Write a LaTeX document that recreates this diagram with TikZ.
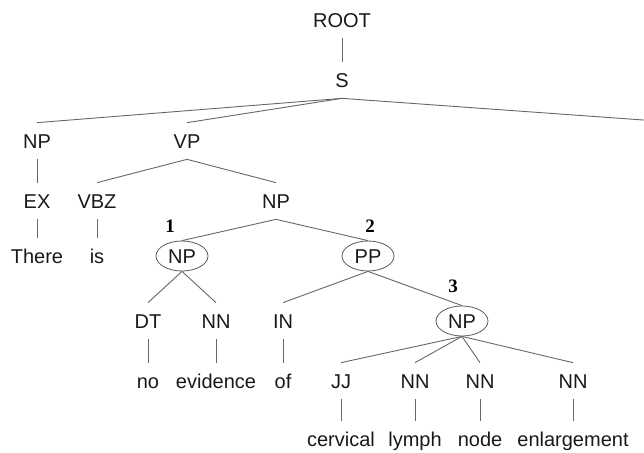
\documentclass[tikz,border=0pt]{standalone}
\usepackage{fontspec}
\setmainfont{Liberation Sans}
\newfontfamily\numfont{Liberation Serif}
\usetikzlibrary{shapes.geometric}
\begin{document}
\begin{tikzpicture}[x=1pt,y=-1pt,
  lbl/.style={font=\fontsize{20}{24}\selectfont, text height=14.3pt, text depth=0pt, inner xsep=1pt, inner ysep=11pt, text=black!90},
  circ/.style={lbl, ellipse, draw=black!65, line width=0.8pt, inner sep=0pt, minimum width=52pt, minimum height=30pt},
  num/.style={font=\numfont\bfseries\fontsize{19}{22}\selectfont, inner sep=0pt},
  edge/.style={draw=black!60, line width=0.9pt}]
\useasboundingbox (0,0) rectangle (644,452);
% row 0-1
\node[lbl] (ROOT) at (342,20) {ROOT};
\node[lbl] (S) at (342,80) {S};
% row 2
\node[lbl] (NPa) at (37,141) {NP};
\node[lbl] (VP) at (187,141) {VP};
\coordinate (off) at (646,120.2);
% row 3
\node[lbl] (EX) at (37,201) {EX};
\node[lbl] (VBZ) at (97,201) {VBZ};
\node[lbl] (NPb) at (276,201) {NP};
% row 4
\node[lbl] (There) at (37,256) {There};
\node[lbl] (is) at (97,256) {is};
\node[circ] (NP1) at (182,256) {NP};
\node[circ] (PP) at (368,256) {PP};
% row 5
\node[lbl] (DT) at (148,321) {DT};
\node[lbl] (NNa) at (216,321) {NN};
\node[lbl] (IN) at (283,321) {IN};
\node[circ] (NP3) at (462,321) {NP};
% row 6
\node[lbl] (no) at (148,381) {no};
\node[lbl] (evidence) at (216,381) {evidence};
\node[lbl] (of) at (283,381) {of};
\node[lbl] (JJ) at (341,381) {JJ};
\node[lbl] (NNb) at (415,381) {NN};
\node[lbl] (NNc) at (480,381) {NN};
\node[lbl] (NNd) at (573,381) {NN};
% row 7
\node[lbl] (cervical) at (341,439) {cervical};
\node[lbl] (lymph) at (415,439) {lymph};
\node[lbl] (node) at (480,439) {node};
\node[lbl] (enlargement) at (573,439) {enlargement};
% numbers
\node[num] (n1) at (170,226) {1};
\node[num] (n2) at (370,226) {2};
\node[num] (n3) at (453,286) {3};
% edges
\draw[edge] (ROOT.south) -- (S.north);
\draw[edge] (S.south) -- (NPa.north);
\draw[edge] (S.south) -- (VP.north);
\draw[edge] (S.south) -- (off);
\draw[edge] (NPa.south) -- (EX.north);
\draw[edge] (EX.south) -- (There.north);
\draw[edge] (VP.south) -- (VBZ.north);
\draw[edge] (VP.south) -- (NPb.north);
\draw[edge] (VBZ.south) -- (is.north);
\draw[edge] (NPb.south) -- (NP1.north);
\draw[edge] (NPb.south) -- (PP.north);
\draw[edge] (NP1.south) -- (DT.north);
\draw[edge] (NP1.south) -- (NNa.north);
\draw[edge] (PP.south) -- (IN.north);
\draw[edge] (PP.south) -- (NP3.north);
\draw[edge] (DT.south) -- (no.north);
\draw[edge] (NNa.south) -- (evidence.north);
\draw[edge] (IN.south) -- (of.north);
\draw[edge] (NP3.south) -- (JJ.north);
\draw[edge] (NP3.south) -- (NNb.north);
\draw[edge] (NP3.south) -- (NNc.north);
\draw[edge] (NP3.south) -- (NNd.north);
\draw[edge] (JJ.south) -- (cervical.north);
\draw[edge] (NNb.south) -- (lymph.north);
\draw[edge] (NNc.south) -- (node.north);
\draw[edge] (NNd.south) -- (enlargement.north);
\end{tikzpicture}
\end{document}
